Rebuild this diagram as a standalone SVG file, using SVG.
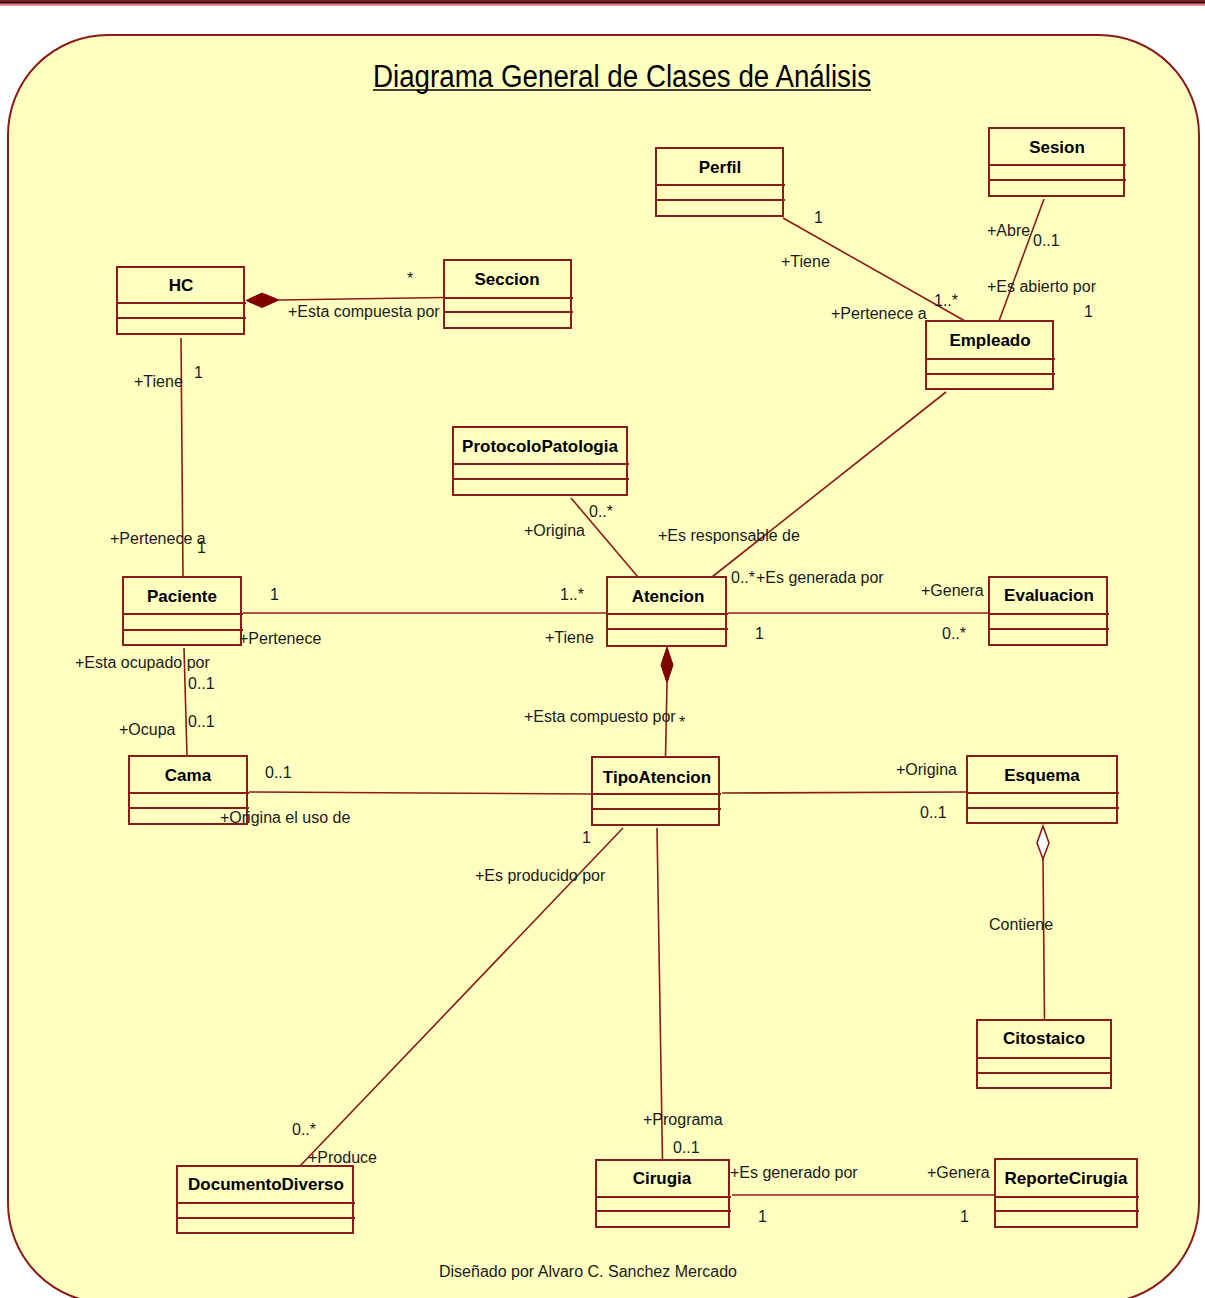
<svg xmlns="http://www.w3.org/2000/svg" width="1205" height="1298" viewBox="0 0 1205 1298">
  <style>
    .box rect { fill: #FFFFC0; stroke: #8B1A1A; stroke-width: 2; }
    .box line { stroke: #8B1A1A; stroke-width: 2; }
    .name { font-family: "Liberation Sans", Arial, sans-serif; font-size: 17px; font-weight: bold; fill: #000; text-anchor: middle; }
    .lbl { font-family: "Liberation Sans", Arial, sans-serif; font-size: 16px; fill: #1a1a1a; }
    .conn line, .conn polyline { stroke: #8B1A1A; stroke-width: 1.6; fill: none; }
    .comp { fill: #800000; stroke: #800000; stroke-width: 1; }
    .aggr { fill: #FFFFFF; stroke: #8B1A1A; stroke-width: 1.6; }
  </style>

  <!-- page header stripes -->
  <rect x="0" y="0" width="1205" height="1.2" fill="#8B1A1A"/>
  <rect x="0" y="1.2" width="1205" height="2" fill="#2A0000"/>
  <rect x="0" y="3.2" width="1205" height="1.4" fill="#A8141C"/>
  <rect x="0" y="4.6" width="1205" height="1.4" fill="#E39A9A"/>

  <!-- canvas -->
  <rect x="8" y="35" width="1191" height="1268" rx="100" ry="100" fill="#FFFFC0" stroke="#8B1A1A" stroke-width="2"/>

  <!-- title -->
  <text x="373" y="87" font-family="'Liberation Sans', Arial, sans-serif" font-size="31" fill="#000" textLength="498" lengthAdjust="spacingAndGlyphs">Diagrama General de Clases de Análisis</text>
  <line x1="373" y1="90" x2="871" y2="90" stroke="#000" stroke-width="1.5"/>

  <!-- connectors -->
  <g id="connectors" class="conn">
    <!-- HC <>- Seccion -->
    <line x1="279" y1="300" x2="444" y2="297.5"/>
    <polygon class="comp" points="246,300.5 262,293 279,300 262,307.5"/>
    <!-- HC - Paciente -->
    <line x1="181" y1="338" x2="183" y2="577"/>
    <!-- Perfil - Empleado -->
    <line x1="783" y1="218" x2="965" y2="321"/>
    <!-- Sesion - Empleado -->
    <line x1="1044" y1="199" x2="999" y2="321"/>
    <!-- Empleado - Atencion -->
    <line x1="946" y1="392" x2="712" y2="577"/>
    <!-- ProtocoloPatologia - Atencion -->
    <line x1="571" y1="498" x2="638" y2="577"/>
    <!-- Paciente - Atencion -->
    <line x1="243" y1="613" x2="607" y2="613"/>
    <!-- Atencion - Evaluacion -->
    <line x1="728" y1="613" x2="989" y2="613"/>
    <!-- Paciente - Cama -->
    <line x1="184" y1="648" x2="187" y2="756"/>
    <!-- Atencion <>- TipoAtencion -->
    <line x1="667" y1="683" x2="665.5" y2="757"/>
    <polygon class="comp" points="667,647 673,665 667,683 661,665"/>
    <!-- Cama - TipoAtencion -->
    <line x1="249" y1="792" x2="592" y2="794"/>
    <!-- TipoAtencion - Esquema -->
    <line x1="722" y1="793" x2="967" y2="792"/>
    <!-- Esquema <>- Citostaico -->
    <line x1="1043" y1="859" x2="1044.5" y2="1020"/>
    <polygon class="aggr" points="1043,826 1049,843 1043,859 1037,843"/>
    <!-- TipoAtencion - DocumentoDiverso -->
    <line x1="623" y1="828" x2="300" y2="1166"/>
    <!-- TipoAtencion - Cirugia -->
    <line x1="657" y1="828" x2="662.5" y2="1160"/>
    <!-- Cirugia - ReporteCirugia -->
    <line x1="732" y1="1195" x2="995" y2="1195"/>
  </g>

  <!-- classes -->
  <g id="HC" class="box">
    <rect x="117" y="267" width="127" height="67"/>
    <line x1="117" y1="303" x2="246" y2="303"/><line x1="117" y1="318" x2="246" y2="318"/>
    <text class="name" x="181" y="291">HC</text>
  </g>
  <g id="Seccion" class="box">
    <rect x="444" y="260" width="127" height="68"/>
    <line x1="444" y1="298" x2="573" y2="298"/><line x1="444" y1="312" x2="573" y2="312"/>
    <text class="name" x="507" y="285">Seccion</text>
  </g>
  <g id="Perfil" class="box">
    <rect x="656" y="148" width="127" height="68"/>
    <line x1="656" y1="185" x2="785" y2="185"/><line x1="656" y1="200" x2="785" y2="200"/>
    <text class="name" x="720" y="173">Perfil</text>
  </g>
  <g id="Sesion" class="box">
    <rect x="989" y="128" width="135" height="68"/>
    <line x1="989" y1="165" x2="1126" y2="165"/><line x1="989" y1="180" x2="1126" y2="180"/>
    <text class="name" x="1057" y="153">Sesion</text>
  </g>
  <g id="Empleado" class="box">
    <rect x="926" y="321" width="127" height="68"/>
    <line x1="926" y1="359" x2="1055" y2="359"/><line x1="926" y1="374" x2="1055" y2="374"/>
    <text class="name" x="990" y="346">Empleado</text>
  </g>
  <g id="ProtocoloPatologia" class="box">
    <rect x="453" y="427" width="174" height="68"/>
    <line x1="453" y1="464" x2="629" y2="464"/><line x1="453" y1="479" x2="629" y2="479"/>
    <text class="name" x="540" y="452">ProtocoloPatologia</text>
  </g>
  <g id="Atencion" class="box">
    <rect x="607" y="577" width="119" height="69"/>
    <line x1="607" y1="614" x2="728" y2="614"/><line x1="607" y1="629" x2="728" y2="629"/>
    <text class="name" x="668" y="602">Atencion</text>
  </g>
  <g id="Paciente" class="box">
    <rect x="123" y="577" width="118" height="68"/>
    <line x1="123" y1="614" x2="243" y2="614"/><line x1="123" y1="630" x2="243" y2="630"/>
    <text class="name" x="182" y="602">Paciente</text>
  </g>
  <g id="Evaluacion" class="box">
    <rect x="989" y="577" width="118" height="68"/>
    <line x1="989" y1="614" x2="1109" y2="614"/><line x1="989" y1="629" x2="1109" y2="629"/>
    <text class="name" x="1049" y="601">Evaluacion</text>
  </g>
  <g id="Cama" class="box">
    <rect x="129" y="756" width="118" height="68"/>
    <line x1="129" y1="793" x2="249" y2="793"/><line x1="129" y1="808" x2="249" y2="808"/>
    <text class="name" x="188" y="781">Cama</text>
  </g>
  <g id="TipoAtencion" class="box">
    <rect x="592" y="757" width="127" height="68"/>
    <line x1="592" y1="794" x2="721" y2="794"/><line x1="592" y1="809" x2="721" y2="809"/>
    <text class="name" x="657" y="783">TipoAtencion</text>
  </g>
  <g id="Esquema" class="box">
    <rect x="967" y="756" width="150" height="67"/>
    <line x1="967" y1="793" x2="1119" y2="793"/><line x1="967" y1="808" x2="1119" y2="808"/>
    <text class="name" x="1042" y="781">Esquema</text>
  </g>
  <g id="Citostaico" class="box">
    <rect x="977" y="1020" width="134" height="68"/>
    <line x1="977" y1="1058" x2="1112" y2="1058"/><line x1="977" y1="1073" x2="1112" y2="1073"/>
    <text class="name" x="1044" y="1044">Citostaico</text>
  </g>
  <g id="DocumentoDiverso" class="box">
    <rect x="177" y="1166" width="176" height="67"/>
    <line x1="177" y1="1203" x2="355" y2="1203"/><line x1="177" y1="1218" x2="355" y2="1218"/>
    <text class="name" x="266" y="1190">DocumentoDiverso</text>
  </g>
  <g id="Cirugia" class="box">
    <rect x="596" y="1160" width="133" height="67"/>
    <line x1="596" y1="1197" x2="731" y2="1197"/><line x1="596" y1="1211" x2="731" y2="1211"/>
    <text class="name" x="662" y="1184">Cirugia</text>
  </g>
  <g id="ReporteCirugia" class="box">
    <rect x="995" y="1159" width="142" height="68"/>
    <line x1="995" y1="1197" x2="1139" y2="1197"/><line x1="995" y1="1211" x2="1139" y2="1211"/>
    <text class="name" x="1066" y="1184">ReporteCirugia</text>
  </g>

  <!-- association role names and multiplicities -->
  <g id="labels">
    <text class="lbl" x="407" y="284">*</text>
    <text class="lbl" x="288" y="317">+Esta compuesta por</text>

    <text class="lbl" x="134" y="387">+Tiene</text>
    <text class="lbl" x="194" y="378">1</text>
    <text class="lbl" x="110" y="544">+Pertenece a</text>
    <text class="lbl" x="197" y="553">1</text>

    <text class="lbl" x="814" y="223">1</text>
    <text class="lbl" x="781" y="267">+Tiene</text>
    <text class="lbl" x="934" y="306">1..*</text>
    <text class="lbl" x="831" y="319">+Pertenece a</text>

    <text class="lbl" x="987" y="236">+Abre</text>
    <text class="lbl" x="1033" y="246">0..1</text>
    <text class="lbl" x="987" y="292">+Es abierto por</text>
    <text class="lbl" x="1084" y="317">1</text>

    <text class="lbl" x="589" y="517">0..*</text>
    <text class="lbl" x="524" y="536">+Origina</text>
    <text class="lbl" x="658" y="541">+Es responsable de</text>
    <text class="lbl" x="731" y="583">0..*</text>
    <text class="lbl" x="756" y="583">+Es generada por</text>

    <text class="lbl" x="270" y="600">1</text>
    <text class="lbl" x="239" y="644">+Pertenece</text>
    <text class="lbl" x="560" y="600">1..*</text>
    <text class="lbl" x="545" y="643">+Tiene</text>

    <text class="lbl" x="921" y="596">+Genera</text>
    <text class="lbl" x="755" y="639">1</text>
    <text class="lbl" x="942" y="639">0..*</text>

    <text class="lbl" x="75" y="668">+Esta ocupado por</text>
    <text class="lbl" x="188" y="689">0..1</text>
    <text class="lbl" x="188" y="727">0..1</text>
    <text class="lbl" x="119" y="735">+Ocupa</text>

    <text class="lbl" x="524" y="722">+Esta compuesto por</text>
    <text class="lbl" x="679" y="728">*</text>

    <text class="lbl" x="265" y="778">0..1</text>
    <text class="lbl" x="220" y="823">+Origina el uso de</text>

    <text class="lbl" x="896" y="775">+Origina</text>
    <text class="lbl" x="920" y="818">0..1</text>

    <text class="lbl" x="582" y="843">1</text>
    <text class="lbl" x="475" y="881">+Es producido por</text>

    <text class="lbl" x="989" y="930">Contiene</text>

    <text class="lbl" x="292" y="1135">0..*</text>
    <text class="lbl" x="308" y="1163">+Produce</text>

    <text class="lbl" x="643" y="1125">+Programa</text>
    <text class="lbl" x="673" y="1153">0..1</text>

    <text class="lbl" x="730" y="1178">+Es generado por</text>
    <text class="lbl" x="927" y="1178">+Genera</text>
    <text class="lbl" x="758" y="1222">1</text>
    <text class="lbl" x="960" y="1222">1</text>
  </g>

  <!-- footer -->
  <text class="lbl" x="439" y="1277">Diseñado por Alvaro C. Sanchez Mercado</text>
</svg>
